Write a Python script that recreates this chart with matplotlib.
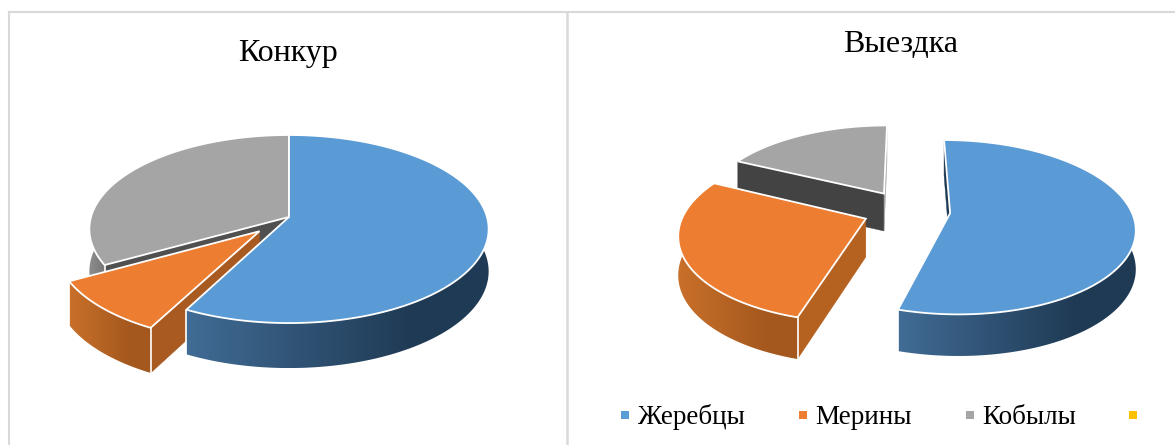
import numpy as np
import matplotlib
matplotlib.use('Agg')
import matplotlib.pyplot as plt
from matplotlib.colors import LinearSegmentedColormap
from matplotlib.patches import Polygon, Rectangle

# chart data
categories = ['Жеребцы', 'Мерины', 'Кобылы', '']
konkur = [57.6, 9.3, 33.1, 0]
vyezdka = [54.5, 27.7, 17.8, 0]

top_colors = ['#5B9BD5', '#ED7D31', '#A5A5A5', '#FFC000']
rim_left = ['#416C95', '#C9702A', '#8F8F8F', '#FFC000']
rim_right = ['#1F3A54', '#A4581E', '#7C7C7C', '#FFC000']

plt.rcParams['font.family'] = ['Liberation Serif', 'DejaVu Serif']

fig = plt.figure(figsize=(11.75, 4.45), dpi=100)
ax = fig.add_axes([0, 0, 1, 1])
ax.axis('off')


def project(u, v, p):
    # u,v are on the pie disc, v=1 is the far side
    s = 1 / (1 + p['k'] * v)
    return p['cx'] + p['R'] * u * s, p['cy'] - p['H'] * v * s, p['h'] * np.sqrt(s)


def draw_pie(values, explode, p, wall_colors):
    values = np.array(values, dtype=float)
    ends = np.cumsum(values) / values.sum() * 2 * np.pi
    starts = ends - values / values.sum() * 2 * np.pi

    # back slices first, blue goes last
    for rank, i in enumerate(p['order']):
        if values[i] == 0:
            continue
        z = rank * 3
        t = np.linspace(starts[i], ends[i], 160)
        mid = (starts[i] + ends[i]) / 2
        ou, ov = explode[i] * np.sin(mid), explode[i] * np.cos(mid)
        x, y, d = project(ou + np.sin(t), ov + np.cos(t), p)
        ax0, ay0, ad0 = project(ou, ov, p)

        # flat walls from the centre to the rim
        for j, c in zip([0, -1], wall_colors[i]):
            if c is None:
                continue
            pts = [(ax0, ay0), (x[j], y[j]), (x[j], y[j] + d[j]), (ax0, ay0 + ad0)]
            ax.add_patch(Polygon(pts, closed=True, fc=c, ec=c, lw=0.3, zorder=z + 1))

        # outer wall, shaded along x
        front = np.cos(t) < 0.15
        if front.sum() > 1:
            xf, yf, df = x[front], y[front], d[front]
            pts = list(zip(xf, yf)) + list(zip(xf[::-1], (yf + df)[::-1]))
            clip = Polygon(pts, closed=True, fc='none', ec='none', transform=ax.transData)
            ax.add_patch(clip)
            cmap = LinearSegmentedColormap.from_list('rim', [(0, rim_left[i]), (0.75, rim_right[i]),
                                                             (1, rim_right[i])])
            im = ax.imshow(np.linspace(0, 1, 256).reshape(1, -1), cmap=cmap, aspect='auto',
                           extent=(xf.min(), xf.max(), (yf + df).max(), yf.min()), zorder=z + 2)
            im.set_clip_path(clip)

        # corner lines on the rim
        for j in [0, -1]:
            if np.cos(t[j]) < 0:
                ax.plot([x[j], x[j]], [y[j], y[j] + d[j]], color='white', lw=1.2, zorder=z + 2.5)

        # top face
        pts = [(ax0, ay0)] + list(zip(x, y))
        ax.add_patch(Polygon(pts, closed=True, fc=top_colors[i], ec='white', lw=1.3, joinstyle='miter',
                             zorder=z + 3))


left_pie = dict(cx=289, cy=217, R=198, H=92.5, k=0.128, h=42, order=[2, 1, 0])
right_pie = dict(cx=906.5, cy=210.3, R=181, H=84, k=0.16, h=38, order=[2, 1, 0])

draw_pie(konkur, [0, 0.21, 0, 0], left_pie,
         [(None, None), ('#A85A20', None), ('#505050', None), (None, None)])
draw_pie(vyezdka, [0.242, 0.242, 0.242, 0.242], right_pie,
         [('#1F3A54', None), ('#B5611F', None), ('#434343', '#A5A5A5'), (None, None)])

# chart frames
frame = '#D9D9D9'
ax.plot([8.5, 8.5], [445, 12], color=frame, lw=1.5, zorder=0)
ax.plot([8.5, 1175], [12, 12], color=frame, lw=1.5, zorder=0)
ax.plot([566.5, 566.5], [12, 445], color=frame, lw=1.8, zorder=0)

ax.text(288, 54, 'Конкур', fontsize=23, ha='center', va='center', color='black')
ax.text(900.5, 44, 'Выездка', fontsize=23, ha='center', va='center', color='black')

# legend
marker_x = [625, 803, 970, 1133]
label_x = [638, 815, 982, 1148]
for mx, lx, name, c in zip(marker_x, label_x, categories, top_colors):
    ax.add_patch(Rectangle((mx - 4, 411), 8, 8, fc=c, ec='none'))
    ax.text(lx, 417, name, fontsize=19.5, ha='left', va='center', color='black')

ax.set_xlim(0, 1175)
ax.set_ylim(445, 0)

fig.savefig('out.png', dpi=100)
